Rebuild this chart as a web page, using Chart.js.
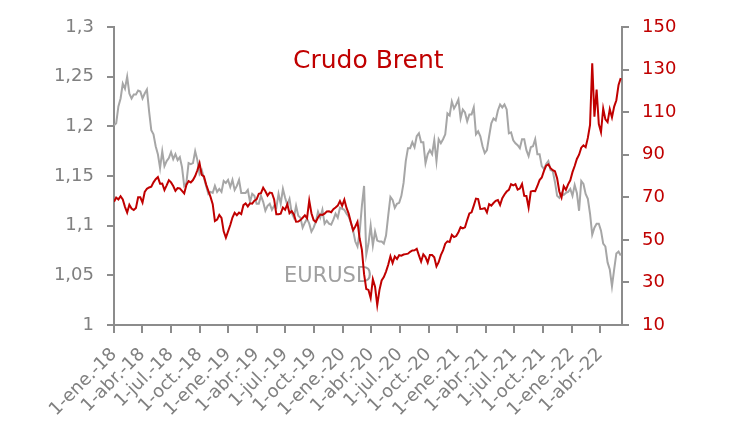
<!DOCTYPE html>
<html>
<head>
<meta charset="utf-8">
<script src="https://cdn.jsdelivr.net/npm/chart.js@4"></script>
<style>
  body { margin: 0; background: #fff; }
  #wrap { width: 731px; height: 444px; position: relative; }
</style>
</head>
<body>
<div id="wrap"><canvas id="myChart"></canvas></div>
<script>
// weekly closes, first point = Monday 1-ene-18, one point every 7 days
const weekStep = 7;

const eurusd = [
  // 2018
  1.201, 1.203, 1.220, 1.228, 1.243,
  1.238, 1.250, 1.233, 1.228,
  1.232, 1.232, 1.236, 1.235,
  1.228, 1.233, 1.237, 1.215, 1.196,
  1.192, 1.180, 1.172, 1.158,
  1.175, 1.160, 1.165, 1.168,
  1.174, 1.167, 1.172, 1.166, 1.169,
  1.159, 1.140, 1.143, 1.163,
  1.162, 1.163, 1.175, 1.166,
  1.152, 1.156, 1.148, 1.140, 1.132,
  1.134, 1.133, 1.140, 1.134,
  1.137, 1.134, 1.145, 1.143, 1.146,
  // 2019
  1.139, 1.146, 1.136, 1.140,
  1.146, 1.133, 1.133, 1.133,
  1.136, 1.124, 1.132, 1.130,
  1.122, 1.122, 1.130, 1.124, 1.115,
  1.120, 1.122, 1.116, 1.120,
  1.118, 1.132, 1.122, 1.137,
  1.128, 1.121, 1.127, 1.113, 1.108,
  1.120, 1.110, 1.108, 1.098,
  1.103, 1.107, 1.102, 1.094, 1.098,
  1.104, 1.114, 1.108, 1.116,
  1.102, 1.105, 1.102, 1.101,
  1.106, 1.112, 1.108, 1.118, 1.117,
  // 2020
  1.116, 1.112, 1.109, 1.103,
  1.095, 1.084, 1.079, 1.094,
  1.120, 1.140, 1.071, 1.082, 1.100,
  1.080, 1.094, 1.085, 1.084,
  1.084, 1.082, 1.090, 1.110,
  1.129, 1.126, 1.118, 1.122, 1.123,
  1.130, 1.143, 1.165, 1.178,
  1.178, 1.184, 1.179, 1.190, 1.193,
  1.184, 1.184, 1.163, 1.172,
  1.176, 1.172, 1.186, 1.165,
  1.187, 1.183, 1.187, 1.192, 1.213,
  1.211, 1.225, 1.218, 1.222,
  // 2021
  1.227, 1.208, 1.217, 1.214,
  1.205, 1.212, 1.212, 1.219,
  1.192, 1.195, 1.190, 1.180, 1.173,
  1.176, 1.190, 1.203, 1.208,
  1.206, 1.216, 1.222, 1.219, 1.222,
  1.217, 1.193, 1.194, 1.186,
  1.183, 1.181, 1.178, 1.187,
  1.187, 1.176, 1.170, 1.179, 1.180,
  1.187, 1.172, 1.172, 1.160,
  1.157, 1.162, 1.165, 1.156,
  1.155, 1.144, 1.130, 1.128, 1.133,
  1.131, 1.133, 1.134, 1.137,
  // 2022
  1.130, 1.141, 1.133, 1.115, 1.145,
  1.142, 1.132, 1.127, 1.112,
  1.091, 1.098, 1.102, 1.102,
  1.095, 1.082, 1.079, 1.063,
  1.056, 1.039, 1.056, 1.072, 1.074,
  1.070
];

const brent = [
  // 2018
  67.9, 69.9, 69.0, 70.5, 69.0,
  65.5, 62.8, 66.5, 64.7,
  64.0, 65.0, 70.0, 70.0,
  67.5, 72.5, 74.0, 74.6, 75.0,
  77.0, 78.5, 79.5, 76.4,
  76.5, 73.4, 75.6, 78.0,
  77.0, 75.3, 73.0, 74.3, 74.2,
  73.0, 71.8, 75.8, 77.6,
  77.0, 78.1, 80.0, 82.7,
  86.0, 80.5, 79.8, 76.0, 73.0,
  70.2, 66.8, 58.8, 59.5,
  61.7, 60.3, 54.0, 51.0, 54.0,
  // 2019
  57.0, 60.5, 62.7, 61.6,
  62.8, 62.1, 66.3, 67.1,
  65.7, 67.2, 67.0, 68.4,
  69.0, 71.6, 71.9, 74.5, 72.8,
  70.8, 72.2, 72.0, 69.0,
  62.0, 62.0, 62.3, 65.2,
  64.2, 66.7, 62.5, 63.5, 61.9,
  58.5, 58.6, 59.3, 60.4,
  61.5, 60.2, 68.5, 62.5, 59.3,
  58.4, 60.5, 61.9, 61.7,
  62.3, 63.3, 63.4, 63.0,
  64.4, 65.2, 66.1, 68.2, 66.0,
  // 2020
  68.9, 65.0, 62.2, 58.2,
  54.5, 56.3, 58.5, 50.5,
  45.3, 33.9, 26.9, 26.5, 22.7,
  31.5, 28.0, 19.3, 26.4,
  30.9, 32.5, 35.1, 38.3,
  42.3, 39.1, 42.2, 41.0, 42.8,
  42.6, 43.1, 43.3, 43.5,
  44.4, 45.0, 45.1, 45.8, 42.7,
  39.8, 43.2, 41.9, 39.3,
  42.9, 42.9, 41.8, 37.5,
  39.5, 42.8, 45.0, 48.2, 49.3,
  49.0, 52.3, 51.3, 51.8,
  // 2021
  53.6, 56.0, 55.4, 55.9,
  59.3, 62.4, 62.9, 66.1,
  69.4, 69.2, 64.5, 64.6, 64.9,
  62.9, 66.8, 66.1, 67.3,
  68.3, 68.7, 66.4, 69.6, 71.3,
  72.7, 73.5, 76.2, 75.6,
  76.2, 73.6, 74.1, 76.3,
  70.7, 70.6, 65.2, 72.7, 73.0,
  72.9, 75.3, 78.1, 79.3,
  82.4, 84.9, 85.5, 83.7,
  82.7, 82.2, 78.9, 72.7, 69.9,
  75.2, 73.5, 76.1, 78.0,
  // 2022
  81.8, 84.7, 88.0, 90.0, 93.3,
  94.4, 93.5, 97.9, 104.0,
  133.0, 107.9, 120.6, 104.4,
  100.6, 111.7, 106.6, 105.3,
  111.4, 107.5, 112.6, 115.6, 122.8,
  126.0
];

// x axis: days since 1-ene-18
const tickDays = [0, 90, 181, 273, 365, 455, 546, 638, 730, 821, 912, 1004, 1096, 1186, 1277, 1369, 1461, 1551];
const tickLabels = ['1-ene.-18', '1-abr.-18', '1-jul.-18', '1-oct.-18',
                    '1-ene.-19', '1-abr.-19', '1-jul.-19', '1-oct.-19',
                    '1-ene.-20', '1-abr.-20', '1-jul.-20', '1-oct.-20',
                    '1-ene.-21', '1-abr.-21', '1-jul.-21', '1-oct.-21',
                    '1-ene.-22', '1-abr.-22'];
const lastDay = 1621;

const eurTicks = [1, 1.05, 1.1, 1.15, 1.2, 1.25, 1.3];
const eurTickLabels = ['1', '1,05', '1,1', '1,15', '1,2', '1,25', '1,3'];
const brentTicks = [10, 30, 50, 70, 90, 110, 130, 150];
const brentTickLabels = ['10', '30', '50', '70', '90', '110', '130', '150'];

const RED = '#c00000';
const GREY_LINE = '#a6a6a6';
const AXIS = '#8c8c8c';
const TXT = '#808080';

const toPoints = arr => arr.map((v, i) => ({ x: i * weekStep, y: v }));

// in-plot labels, drawn under the lines
const labelsPlugin = {
  id: 'inPlotLabels',
  beforeDatasetsDraw(chart) {
    const c = chart.ctx;
    c.save();
    c.textBaseline = 'alphabetic';
    c.textAlign = 'left';
    c.fillStyle = RED;
    c.font = '25px "DejaVu Sans"';
    c.fillText('Crudo Brent', 293, 68);
    c.fillStyle = '#a0a0a0';
    c.font = '21px "DejaVu Sans"';
    c.fillText('EURUSD', 284, 282);
    c.restore();
  }
};

const ctx = document.getElementById('myChart');
const myChart = new Chart(ctx, {
  type: 'line',
  data: {
    datasets: [{
      label: 'Crudo Brent',
      data: toPoints(brent),
      yAxisID: 'y1',
      borderColor: RED,
      borderWidth: 2,
      pointRadius: 0,
      tension: 0
    }, {
      label: 'EURUSD',
      data: toPoints(eurusd),
      yAxisID: 'y',
      borderColor: GREY_LINE,
      borderWidth: 2,
      pointRadius: 0,
      tension: 0
    }]
  },
  options: {
    responsive: true,
    maintainAspectRatio: false,
    animation: false,
    layout: { padding: { top: 27, left: 0, right: 0, bottom: 0 } },
    plugins: { legend: { display: false }, tooltip: { enabled: false } },
    scales: {
      x: {
        type: 'linear',
        min: 0,
        max: lastDay,
        afterBuildTicks: s => { s.ticks = tickDays.map(v => ({ value: v })); },
        afterFit: s => { s.height = 119; s.paddingLeft = 0; s.paddingRight = 0; },
        ticks: {
          callback: (v, i) => tickLabels[i],
          autoSkip: false,
          minRotation: 45,
          maxRotation: 45,
          padding: 11,
          color: TXT,
          font: { family: 'DejaVu Sans', size: 18 }
        },
        grid: { drawOnChartArea: false, drawTicks: true, tickLength: 8, color: AXIS, lineWidth: 2 },
        border: { display: true, color: AXIS, width: 2 }
      },
      y: {
        position: 'left',
        min: 1,
        max: 1.3,
        afterBuildTicks: s => { s.ticks = eurTicks.map(v => ({ value: v })); },
        afterFit: s => { s.width = 114; },
        ticks: {
          callback: (v, i) => eurTickLabels[i],
          padding: 13,
          color: TXT,
          font: { family: 'DejaVu Sans', size: 18 }
        },
        grid: { drawOnChartArea: false, drawTicks: true, tickLength: 7, color: AXIS, lineWidth: 2 },
        border: { display: true, color: AXIS, width: 2 }
      },
      y1: {
        position: 'right',
        min: 10,
        max: 150,
        afterBuildTicks: s => { s.ticks = brentTicks.map(v => ({ value: v })); },
        afterFit: s => { s.width = 109; },
        ticks: {
          callback: (v, i) => brentTickLabels[i],
          padding: 13,
          color: RED,
          font: { family: 'DejaVu Sans', size: 18 }
        },
        grid: { drawOnChartArea: false, drawTicks: true, tickLength: 7, color: AXIS, lineWidth: 2 },
        border: { display: true, color: AXIS, width: 2 }
      }
    }
  },
  plugins: [labelsPlugin]
});
</script>
</body>
</html>
